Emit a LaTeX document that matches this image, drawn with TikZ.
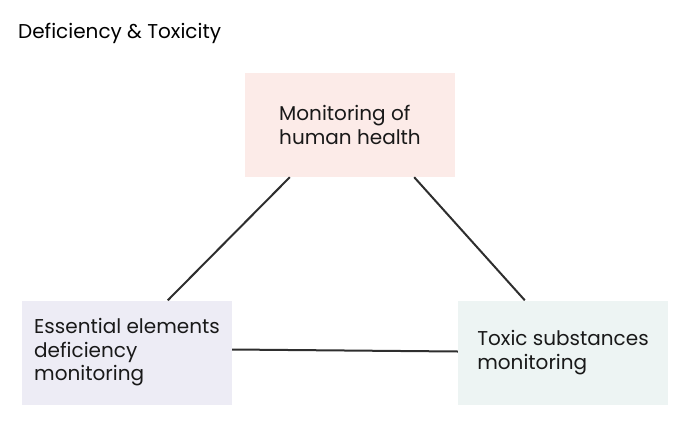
\documentclass[tikz,border=0pt]{standalone}
\usepackage{fontspec}
\setmainfont{Poppins}
\usetikzlibrary{positioning, calc}

\definecolor{healthpink}{HTML}{FCEBE8}
\definecolor{defblue}{HTML}{EDECF5}
\definecolor{toxgreen}{HTML}{EDF4F3}
\definecolor{linkgray}{HTML}{2E2E2E}

\begin{document}
\begin{tikzpicture}[
      x=1pt, y=1pt,
      box/.style={minimum width=210pt, minimum height=104pt, align=left,
        font=\fontsize{20}{23.5}\selectfont, text=black!90},
      link/.style={draw=linkgray, line width=2pt}]

      \useasboundingbox (0,0) rectangle (688,-426);

      \node[anchor=west, inner sep=0pt, font=\fontsize{20}{23}\selectfont] (title) at (18,-33) {Deficiency \& Toxicity};

      \node[box, fill=healthpink] (health) at (350,-125) {Monitoring of\\human health};
      \node[box, fill=defblue] (deficiency) at (127,-352.5) {Essential elements\\deficiency\\monitoring};
      \node[box, fill=toxgreen] (toxic) at (563,-352.5) {Toxic substances\\monitoring};

      \draw[link] ($(health.south west)+(45,0)$) -- ($(deficiency.north west)+(146,0)$);
      \draw[link] ($(health.south east)+(-41,0)$) -- ($(toxic.north west)+(67,0)$);
      \draw[link] ($(deficiency.east)+(0,3)$) -- ($(toxic.west)+(0,1)$);
\end{tikzpicture}
\end{document}
